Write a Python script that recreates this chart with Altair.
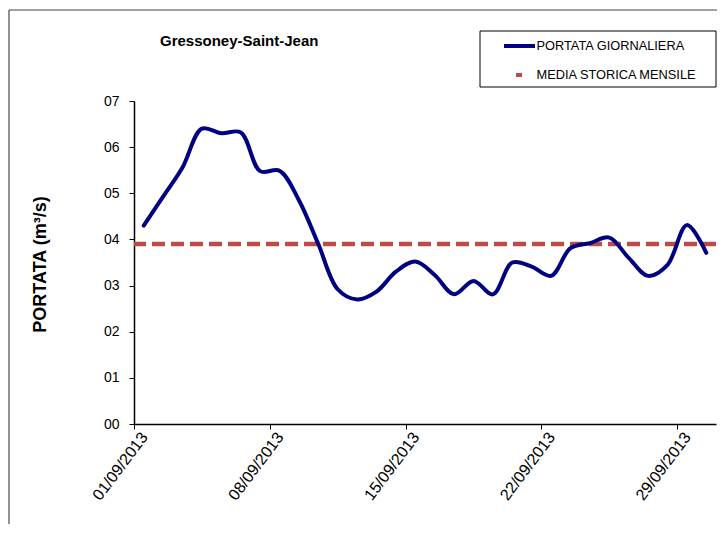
import altair as alt
import pandas as pd

# ---- data ----
dates = [
    "01/09/2013", "02/09/2013", "03/09/2013", "04/09/2013", "05/09/2013",
    "06/09/2013", "07/09/2013", "08/09/2013", "09/09/2013", "10/09/2013",
    "11/09/2013", "12/09/2013", "13/09/2013", "14/09/2013", "15/09/2013",
    "16/09/2013", "17/09/2013", "18/09/2013", "19/09/2013", "20/09/2013",
    "21/09/2013", "22/09/2013", "23/09/2013", "24/09/2013", "25/09/2013",
    "26/09/2013", "27/09/2013", "28/09/2013", "29/09/2013", "30/09/2013",
]
portata = [
    0.430, 0.493, 0.556, 0.640, 0.630, 0.632, 0.548, 0.549, 0.485, 0.390,
    0.292, 0.270, 0.287, 0.330, 0.352, 0.323, 0.281, 0.310, 0.281, 0.350,
    0.341, 0.321, 0.381, 0.392, 0.404, 0.360, 0.321, 0.345, 0.431, 0.371,
]
media_storica = 0.39
tick_labels = ["01/09/2013", "08/09/2013", "15/09/2013", "22/09/2013", "29/09/2013"]
y_ticks = [0.0, 0.1, 0.2, 0.3, 0.4, 0.5, 0.6, 0.7]
series_names = ["PORTATA GIORNALIERA", "MEDIA STORICA MENSILE"]
station = "Gressoney-Saint-Jean"
y_title = "PORTATA (m³/s)"

NAVY = "#000080"
RED = "#BE4B48"
FONT = "Liberation Sans"

df = pd.DataFrame({"data": dates, "giorno": list(range(1, len(dates) + 1)), "portata": portata})
mean_df = pd.DataFrame({"media": [media_storica]})

# category boundaries (Excel style: ticks between categories)
tick_pos = [dates.index(t) + 0.5 for t in tick_labels]
label_array = "[" + ",".join("'" + t + "'" for t in tick_labels) + "]"
x_label_expr = label_array + "[round((datum.value - 0.5) / 7)]"

x_enc = alt.X(
    "giorno:Q",
    scale=alt.Scale(domain=[0.5, len(dates) + 0.5], nice=False, zero=False),
    axis=alt.Axis(
        values=tick_pos, labelExpr=x_label_expr, title=None, grid=False,
        labelAngle=307, labelAlign="right", labelBaseline="middle",
        labelFontSize=16, labelPadding=5, labelOffset=10, tickSize=5,
        labelOverlap=False,
    ),
)
y_enc = alt.Y(
    "portata:Q",
    scale=alt.Scale(domain=[0, 0.7], nice=False),
    axis=alt.Axis(
        values=y_ticks, labelExpr="replace(format(datum.value, '.1f'), '.', '')",
        title=y_title, titleFontSize=18, titleFontWeight="bold",
        titleX=-94, titleY=163, titleAngle=270, titleAlign="center",
        titleBaseline="middle", grid=False, tickSize=5, labelFontSize=14,
        labelPadding=10,
    ),
)

line = alt.Chart(df).mark_line(
    color=NAVY, strokeWidth=4, interpolate="catmull-rom", strokeCap="round"
).encode(x=x_enc, y=y_enc)

mean_rule = alt.Chart(mean_df).mark_rule(
    color=RED, strokeWidth=4.5, strokeDash=[13, 6]
).encode(y=alt.Y("media:Q"))

one = alt.Data(values=[{"k": 1}])

# outer frame (top and left edges, as in the reference)
frame_top = alt.Chart(one).mark_rule(color="#444444", strokeWidth=1).encode(
    x=alt.value(-125), x2=alt.value(620), y=alt.value(-91)
)
frame_left = alt.Chart(one).mark_rule(color="#222222", strokeWidth=1).encode(
    x=alt.value(-125), y=alt.value(-91), y2=alt.value(460)
)

title = alt.Chart(one).mark_text(
    align="left", baseline="middle", fontSize=15, fontWeight="bold", font=FONT, color="black"
).encode(x=alt.value(26), y=alt.value(-60), text=alt.value(station))

# legend box
leg_box = alt.Chart(one).mark_rect(fill="white", stroke="black", strokeWidth=1).encode(
    x=alt.value(346), x2=alt.value(582), y=alt.value(-70), y2=alt.value(-14)
)
leg_sym1 = alt.Chart(one).mark_rule(color=NAVY, strokeWidth=4).encode(
    x=alt.value(370), x2=alt.value(401), y=alt.value(-55)
)
leg_sym2 = alt.Chart(one).mark_rule(color=RED, strokeWidth=4).encode(
    x=alt.value(382), x2=alt.value(388), y=alt.value(-26)
)
leg_txt1 = alt.Chart(one).mark_text(
    align="left", baseline="middle", fontSize=12.8, font=FONT, color="black"
).encode(x=alt.value(402.5), y=alt.value(-55), text=alt.value(series_names[0]))
leg_txt2 = alt.Chart(one).mark_text(
    align="left", baseline="middle", fontSize=12.8, font=FONT, color="black"
).encode(x=alt.value(402.5), y=alt.value(-26), text=alt.value(series_names[1]))

chart = alt.layer(
    frame_top, frame_left, mean_rule, line, title,
    leg_box, leg_sym1, leg_sym2, leg_txt1, leg_txt2,
).properties(
    width=582, height=323,
    padding={"left": 126, "top": 93, "right": 1, "bottom": 100},
    autosize=alt.AutoSizeParams(type="none"),
    background="white",
).configure_view(stroke=None).configure_axis(
    domainColor="black", tickColor="black", labelColor="black", titleColor="black",
    labelFont=FONT, titleFont=FONT, domainWidth=1.5,
)

chart.save("out.html", embed_options={"renderer": "svg", "actions": False})
